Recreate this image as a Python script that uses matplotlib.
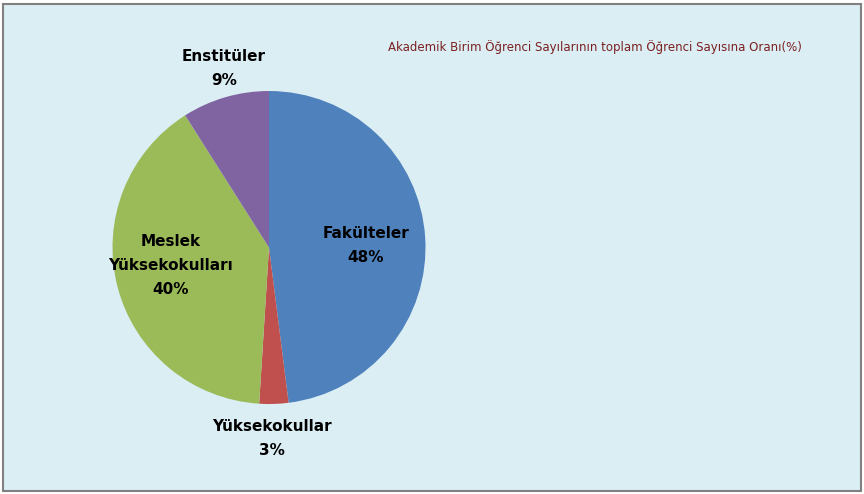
import numpy as np
import matplotlib
matplotlib.use("Agg")
import matplotlib.pyplot as plt
from matplotlib.patches import Rectangle

categories = ["Fakülteler", "Yüksekokullar", "Meslek\nYüksekokulları", "Enstitüler"]
values = [48, 3, 40, 9]
colors = ["#4F81BD", "#C0504D", "#9BBB59", "#8064A2"]
label_dist = [0.62, 1.22, 0.64, 1.18]
label_ang_shift = [-2.5, -1.0, -4.0, -2.0]
title = "Akademik Birim Öğrenci Sayılarının toplam Öğrenci Sayısına Oranı(%)"

bg = "#DBEEF4"
fig = plt.figure(figsize=(8.64, 4.94), dpi=100, facecolor="white")
fig.add_artist(Rectangle((3/864, 3/494), 858/864, 487/494, transform=fig.transFigure,
                         facecolor=bg, edgecolor="#808080", linewidth=1.5, zorder=-10))

ax = fig.add_axes([112/864, (494-404)/494, 314/864, 313/494])
ax.set_zorder(1)
ax.set_facecolor("none")
wedges, _ = ax.pie(values, colors=colors, startangle=90, counterclock=False,
                   radius=1, wedgeprops=dict(linewidth=0))
ax.set_xlim(-1, 1)
ax.set_ylim(-1, 1)
ax.set_aspect("equal")
ax.axis("off")

total = sum(values)
for w, cat, v, d, s in zip(wedges, categories, values, label_dist, label_ang_shift):
    ang = np.deg2rad((w.theta1 + w.theta2) / 2 + s)
    x, y = d * np.cos(ang), d * np.sin(ang)
    ax.text(x, y, f"{cat}\n{round(100*v/total)}%", ha="center", va="center",
            fontsize=11, fontweight="bold", linespacing=1.75, color="black",
            clip_on=False)

fig.text(595/864, 1 - 47/494, title, ha="center", va="center",
         fontsize=8.5, color="#7B2020", family="DejaVu Sans")

fig.savefig("out.png", dpi=100, facecolor="white")
